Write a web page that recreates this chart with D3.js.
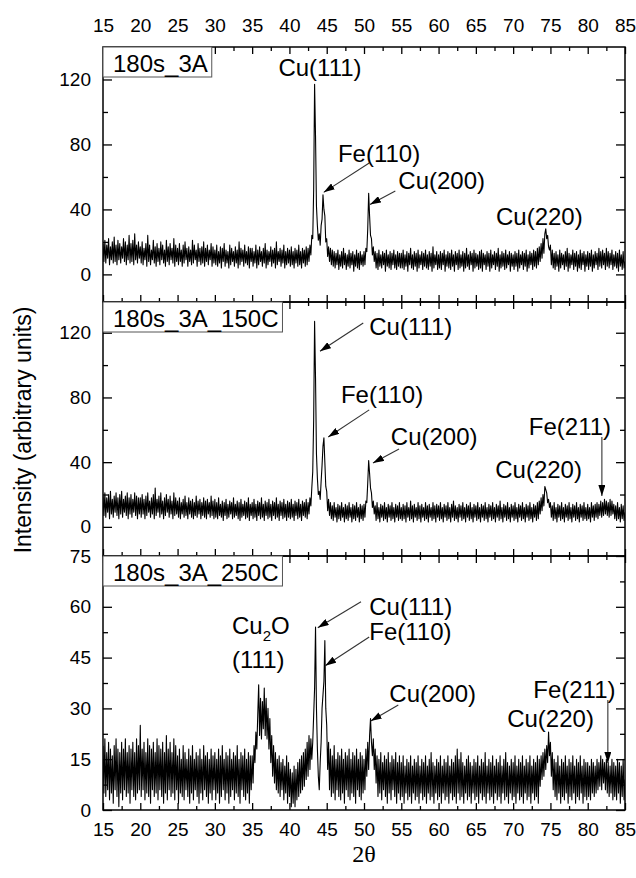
<!DOCTYPE html>
<html>
<head>
<meta charset="utf-8">
<script src="https://cdn.jsdelivr.net/npm/d3@7"></script>
<style>
  body { margin: 0; background: #fff; }
</style>
</head>
<body>
<div id="chart"></div>
<script>
// 2-theta sampling grid (degrees)
var thetaStart = 15;
var thetaStep = 0.125;

// intensities, one value per 0.125 deg, one line per 5 deg
var int3A = [
  19,8,21,7,18,10,22,6,17,9, 20,7,23,8,18,6,21,9,19,7, 17,10,22,8,20,6,18,9,24,7, 19,8,21,6,25,9,18,7,20,10,
  17,7,20,6,16,9,19,5,24,8, 18,6,15,9,21,7,17,5,19,8, 16,6,20,9,18,7,15,5,21,8, 17,6,19,9,16,7,22,5,18,8,
  16,6,19,8,15,5,18,7,20,9, 16,5,17,8,15,6,21,7,18,9, 15,5,19,8,16,6,17,7,20,5, 16,8,18,6,15,9,19,5,17,7,
  15,6,18,5,14,7,17,4,16,8, 19,5,15,7,14,4,18,6,16,8, 14,5,17,7,15,4,20,6,16,8, 15,5,18,7,14,6,17,4,16,8,
  16,5,14,7,18,4,15,6,17,8, 14,5,16,7,19,4,15,6,14,8, 17,5,15,7,16,4,20,6,14,8, 16,5,15,7,18,4,14,6,16,7,
  15,5,17,6,14,4,16,7,15,5, 18,6,14,4,16,7,15,5,17,6, 16,8,18,12,24,22,52,117,85,42, 30,21,25,18,30,34,49,40,36,20,
  22,11,17,8,16,6,15,5,14,4, 13,6,15,3,12,5,14,4,16,6, 13,3,12,5,15,4,13,6,14,2, 12,5,15,4,13,3,14,6,12,5,
  14,6,16,14,28,50,36,24,22,12, 17,8,14,4,13,3,15,5,12,4, 14,6,13,2,15,5,12,4,14,3, 13,6,15,4,12,3,14,5,13,4,
  13,4,15,3,12,5,14,2,13,6, 16,4,12,3,14,5,13,2,15,4, 12,6,14,3,13,5,15,4,12,3, 14,5,13,2,17,4,12,6,14,3,
  12,4,14,3,13,6,15,2,12,5, 14,4,13,3,15,5,12,2,14,6, 13,3,15,4,12,5,14,2,13,4, 16,5,12,3,14,6,13,2,15,4,
  13,5,12,3,14,4,15,2,13,6, 12,3,14,5,13,2,15,4,12,6, 14,3,13,5,16,2,12,4,14,5, 13,3,15,4,12,6,14,2,13,5,
  12,3,14,5,13,2,15,4,12,6, 14,3,13,5,15,2,12,4,14,6, 13,3,15,5,14,4,16,6,17,8, 19,10,22,13,25,28,22,24,17,15,
  18,6,15,4,13,3,14,5,12,2, 15,4,13,6,12,3,14,5,16,2, 13,4,12,6,15,3,13,5,14,2, 12,4,15,3,13,6,14,2,12,5,
  14,3,13,5,15,2,12,4,14,6, 13,3,16,5,14,4,15,6,13,3, 16,5,14,4,13,6,15,3,12,5, 14,4,13,2,15,5,12,3,14,4,
  8
];

var int150C = [
  19,7,21,6,18,9,20,5,22,8, 17,6,19,9,21,7,18,5,20,8, 22,6,17,9,19,7,21,5,18,8, 20,6,17,9,21,7,19,5,18,8,
  18,6,20,8,17,5,19,7,21,9, 16,6,18,8,20,5,24,7,17,9, 19,6,21,8,16,5,18,7,20,9, 17,6,19,8,16,5,21,7,18,8,
  16,6,18,5,15,8,17,6,19,7, 15,5,18,8,16,6,17,5,15,7, 19,6,16,8,17,5,15,7,18,6, 16,5,17,8,15,6,19,7,16,5,
  17,6,15,5,18,7,14,6,16,4, 15,7,17,5,14,6,16,8,15,5, 18,6,14,7,16,5,15,4,17,6, 14,7,16,5,15,6,18,4,14,7,
  15,5,17,6,14,4,16,7,15,5, 18,6,14,4,16,7,15,5,17,6, 14,4,16,7,15,5,18,6,14,4, 16,7,15,5,17,6,14,4,16,6,
  15,5,17,6,14,4,16,7,15,5, 17,6,14,4,16,7,15,6,17,5, 15,8,18,13,24,34,66,127,92,45, 30,20,22,17,28,38,50,55,40,25,
  22,10,17,7,15,5,13,4,15,6, 12,3,14,5,13,4,15,6,12,3, 14,5,13,4,15,6,12,3,14,5, 13,4,15,6,12,3,14,5,13,4,
  14,6,16,15,27,41,33,24,21,12, 16,8,13,4,15,5,12,3,14,6, 13,4,15,5,12,3,14,6,13,4, 15,5,12,3,14,6,13,4,15,5,
  12,4,14,5,13,3,15,6,12,4, 16,5,13,3,14,6,12,4,15,5, 13,3,14,6,12,4,15,5,13,3, 14,6,12,4,15,5,13,3,14,6,
  13,4,15,5,12,3,14,6,13,4, 15,5,12,3,14,6,16,4,13,5, 12,3,14,6,13,4,15,5,12,3, 14,6,13,4,15,5,12,3,14,6,
  13,4,15,5,12,3,14,6,13,4, 15,5,12,3,14,6,13,4,15,5, 12,3,14,6,13,4,16,5,12,3, 14,6,13,4,15,5,12,3,14,6,
  13,4,15,5,12,3,14,6,13,4, 15,5,12,3,14,6,13,4,15,5, 12,3,14,6,13,4,15,5,16,8, 18,10,20,13,25,23,21,15,17,12,
  15,6,13,4,15,5,12,3,14,6, 13,4,15,5,12,3,14,6,13,4, 15,5,12,3,14,6,13,4,15,5, 12,3,14,6,13,4,15,5,12,4,
  14,5,12,3,15,6,13,4,14,6, 15,5,14,7,16,6,15,7,17,8, 16,7,15,6,17,7,16,8,14,5, 13,4,15,5,12,3,14,5,13,4,
  9
];

var int250C = [
  19,5,21,4,17,6,20,3,18,5, 16,2,19,6,21,4,18,1,17,5, 20,3,18,6,21,4,17,5,19,2, 18,6,20,4,17,3,21,5,19,6,
  25,4,18,6,20,3,17,5,21,4, 19,2,18,6,20,4,17,5,21,3, 19,6,18,4,20,2,17,5,22,3, 18,6,20,4,17,5,21,3,19,6,
  16,2,18,5,15,4,19,3,17,6, 15,4,18,2,16,5,19,3,15,6, 17,4,16,2,18,5,15,3,19,6, 16,4,17,2,15,5,18,3,16,6,
  17,3,15,5,18,2,16,4,19,6, 15,3,17,5,16,2,18,4,15,6, 17,3,16,5,19,4,15,2,17,6, 16,4,18,3,15,5,17,2,16,6,
  16,8,19,14,23,18,28,37,22,33, 21,32,24,36,22,33,21,30,18,27, 14,22,10,19,8,17,6,15,5,16, 4,14,6,15,3,13,5,16,2,14,
  4,12,1,11,2,13,1,12,3,14, 4,15,5,16,6,17,7,18,9,20, 10,22,12,21,15,20,28,36,54,30, 18,10,6,14,20,30,34,38,50,30,
  25,12,20,6,18,4,16,5,19,3, 15,6,17,4,16,3,18,5,15,2, 17,6,16,4,18,3,15,5,17,4, 16,2,18,6,15,4,17,3,16,5,
  15,6,18,10,20,12,22,27,20,16, 21,12,18,8,16,4,15,5,17,3, 14,6,16,4,15,2,17,5,14,3, 16,6,15,4,17,2,14,5,16,3,
  14,4,16,2,13,5,15,3,14,4, 16,2,13,5,15,3,14,4,16,2, 13,5,15,3,14,4,16,2,13,5, 15,3,17,4,14,2,13,5,15,3,
  14,4,16,2,13,5,15,3,14,4, 16,2,13,5,15,3,14,4,16,2, 18,5,15,3,17,4,14,2,13,5, 15,3,16,4,14,2,13,5,15,3,
  14,4,16,2,13,5,15,3,14,4, 17,2,13,5,15,3,14,4,16,2, 13,5,15,3,14,4,16,2,13,5, 15,3,17,4,14,2,13,5,15,3,
  14,4,16,2,13,5,15,3,14,4, 16,2,13,5,15,3,14,4,16,2, 13,5,15,3,14,4,16,2,15,7, 16,9,17,10,18,12,19,14,23,16,
  20,10,17,6,15,4,14,3,16,5, 13,2,15,4,14,3,16,5,13,2, 15,4,14,3,16,5,13,2,15,4, 14,3,16,5,13,2,15,4,14,3,
  14,4,13,3,15,5,14,4,13,5, 15,6,14,7,16,6,15,8,14,6, 15,5,14,4,13,5,15,3,14,4, 13,3,15,5,14,2,13,4,15,3,
  9
];

var sampleNames = ["180s_3A", "180s_3A_150C", "180s_3A_250C"];
var xTicks = [15, 20, 25, 30, 35, 40, 45, 50, 55, 60, 65, 70, 75, 80, 85];
var xMinorTicks = [17.5, 22.5, 27.5, 32.5, 37.5, 42.5, 47.5, 52.5, 57.5, 62.5, 67.5, 72.5, 77.5, 82.5];
var yTicksHigh = [0, 40, 80, 120];
var yMinorHigh = [20, 60, 100];
var yTicksLow = [0, 15, 30, 45, 60, 75];
var yMinorLow = [7.5, 22.5, 37.5, 52.5, 67.5];

// svg dimensions
var svgWidth = 636;
var svgHeight = 878;
var plotLeft = 103;
var plotRight = 625;
var font = "'Liberation Sans', Arial, sans-serif";

var svg = d3.select("#chart")
  .append("svg")
  .attr("width", svgWidth)
  .attr("height", svgHeight);

svg.append("defs").append("marker")
  .attr("id", "head")
  .attr("markerUnits", "userSpaceOnUse")
  .attr("viewBox", "0 0 11 7")
  .attr("refX", 11)
  .attr("refY", 3.5)
  .attr("markerWidth", 11)
  .attr("markerHeight", 7)
  .attr("orient", "auto")
  .append("path")
  .attr("d", "M0,0L11,3.5L0,7Z")
  .attr("fill", "#000");

var x = d3.scaleLinear().domain([15, 85]).range([plotLeft, plotRight]);

// labels and arrows in data units (2theta, intensity)
var panels = [
  {
    data: int3A, domain: [-17, 140], top: 47, bottom: 302,
    ticks: yTicksHigh, minor: yMinorHigh,
    labels: [
      {t: "Cu(111)", x: 44.1, y: 122, anchor: "middle"},
      {t: "Fe(110)", x: 46.5, y: 69},
      {t: "Cu(200)", x: 54.6, y: 52.6},
      {t: "Cu(220)", x: 67.7, y: 30.4}
    ],
    arrows: [
      [50.7, 68.6, 44.6, 50.5],
      [54.2, 51.4, 50.8, 43]
    ]
  },
  {
    data: int150C, domain: [-18, 139], top: 302, bottom: 556,
    ticks: yTicksHigh, minor: yMinorHigh,
    labels: [
      {t: "Cu(111)", x: 50.7, y: 118.6},
      {t: "Fe(110)", x: 46.9, y: 76.6},
      {t: "Cu(200)", x: 53.6, y: 50.6},
      {t: "Fe(211)", x: 72.1, y: 56.8},
      {t: "Cu(220)", x: 67.6, y: 30.2}
    ],
    arrows: [
      [49.9, 126, 44.1, 108.6],
      [50.7, 72.3, 45.2, 55.6],
      [54.7, 48.1, 51.2, 39.5],
      [81.9, 55.6, 81.9, 19.1]
    ]
  },
  {
    data: int250C, domain: [0, 75], top: 556, bottom: 810,
    ticks: yTicksLow, minor: yMinorLow,
    labels: [
      {t: "Cu(111)", x: 50.7, y: 57.6},
      {t: "Fe(110)", x: 50.7, y: 50.3},
      {t: "Cu(200)", x: 53.4, y: 31.9},
      {t: "Fe(211)", x: 72.7, y: 33.1},
      {t: "Cu(220)", x: 69.2, y: 24.5},
      {t: "(111)", x: 32.3, y: 42}
    ],
    oxide: {x: 32.3, y: 52},
    arrows: [
      [49.6, 61.5, 43.8, 53.8],
      [50.7, 51.1, 44.8, 42.6],
      [54.6, 31, 50.9, 26.3],
      [82.7, 32.5, 82.7, 13.9]
    ]
  }
];

panels.forEach(function(p, i) {
  var y = d3.scaleLinear().domain(p.domain).range([p.bottom, p.top]);
  var g = svg.append("g");

  g.append("clipPath").attr("id", "clip" + i)
    .append("rect")
    .attr("x", plotLeft).attr("y", p.top)
    .attr("width", plotRight - plotLeft).attr("height", p.bottom - p.top);

  var line = d3.line()
    .x(function(d, k) { return x(thetaStart + k * thetaStep); })
    .y(function(d) { return y(d); });

  g.append("path")
    .datum(p.data)
    .attr("clip-path", "url(#clip" + i + ")")
    .attr("d", line)
    .attr("fill", "none")
    .attr("stroke", "#000")
    .attr("stroke-width", 1.1)
    .attr("stroke-linejoin", "round");

  // axes, ticks all pointing inward
  function styleAxis(sel) {
    sel.select(".domain").remove();
    sel.selectAll(".tick line").attr("stroke", "#000").attr("stroke-width", 1.3);
    sel.selectAll("text").attr("font-size", 19).attr("font-family", font).attr("fill", "#000");
  }
  var showTop = i === 0, showBottom = i === panels.length - 1;

  g.append("g").attr("transform", "translate(0," + p.top + ")")
    .call(d3.axisTop(x).tickValues(xTicks).tickSize(-7).tickPadding(15)
      .tickFormat(showTop ? d3.format("d") : ""))
    .call(styleAxis);
  g.append("g").attr("transform", "translate(0," + p.top + ")")
    .call(d3.axisTop(x).tickValues(xMinorTicks).tickSize(-4).tickFormat(""))
    .call(styleAxis);
  g.append("g").attr("transform", "translate(0," + p.bottom + ")")
    .call(d3.axisBottom(x).tickValues(xTicks).tickSize(-7).tickPadding(13)
      .tickFormat(showBottom ? d3.format("d") : ""))
    .call(styleAxis);
  g.append("g").attr("transform", "translate(0," + p.bottom + ")")
    .call(d3.axisBottom(x).tickValues(xMinorTicks).tickSize(-4).tickFormat(""))
    .call(styleAxis);

  g.append("g").attr("transform", "translate(" + plotLeft + ",0)")
    .call(d3.axisLeft(y).tickValues(p.ticks).tickSize(-9).tickPadding(12).tickFormat(d3.format("d")))
    .call(styleAxis);
  g.append("g").attr("transform", "translate(" + plotLeft + ",0)")
    .call(d3.axisLeft(y).tickValues(p.minor).tickSize(-5).tickFormat(""))
    .call(styleAxis);
  g.append("g").attr("transform", "translate(" + plotRight + ",0)")
    .call(d3.axisRight(y).tickValues(p.ticks).tickSize(-9).tickFormat(""))
    .call(styleAxis);
  g.append("g").attr("transform", "translate(" + plotRight + ",0)")
    .call(d3.axisRight(y).tickValues(p.minor).tickSize(-5).tickFormat(""))
    .call(styleAxis);

  g.append("rect")
    .attr("x", plotLeft).attr("y", p.top)
    .attr("width", plotRight - plotLeft).attr("height", p.bottom - p.top)
    .attr("fill", "none").attr("stroke", "#000").attr("stroke-width", 1.5);

  // sample name box
  var box = g.append("rect")
    .attr("x", plotLeft).attr("y", p.top)
    .attr("height", 30)
    .attr("fill", "#fff").attr("stroke", "#555").attr("stroke-width", 1);
  var nameText = g.append("text")
    .attr("x", plotLeft + 10).attr("y", p.top + 25)
    .attr("font-family", font).attr("font-size", 24)
    .text(sampleNames[i]);
  box.attr("width", nameText.node().getComputedTextLength() + 14);

  // peak labels
  g.selectAll(".peak")
    .data(p.labels)
    .enter().append("text")
    .attr("class", "peak")
    .attr("x", function(d) { return x(d.x); })
    .attr("y", function(d) { return y(d.y); })
    .attr("text-anchor", function(d) { return d.anchor || "start"; })
    .attr("font-family", font).attr("font-size", 24)
    .text(function(d) { return d.t; });

  if (p.oxide) {
    var ox = g.append("text")
      .attr("x", x(p.oxide.x)).attr("y", y(p.oxide.y))
      .attr("font-family", font).attr("font-size", 24);
    ox.append("tspan").text("Cu");
    ox.append("tspan").attr("font-size", 15).attr("dy", 7).text("2");
    ox.append("tspan").attr("dy", -7).text("O");
  }

  g.selectAll(".arrow")
    .data(p.arrows)
    .enter().append("line")
    .attr("class", "arrow")
    .attr("x1", function(d) { return x(d[0]); })
    .attr("y1", function(d) { return y(d[1]); })
    .attr("x2", function(d) { return x(d[2]); })
    .attr("y2", function(d) { return y(d[3]); })
    .attr("stroke", "#333")
    .attr("stroke-width", 1.1)
    .attr("marker-end", "url(#head)");
});

// axis titles
svg.append("text")
  .attr("transform", "translate(31,430) rotate(-90)")
  .attr("text-anchor", "middle")
  .attr("font-family", font).attr("font-size", 23)
  .text("Intensity (arbitrary units)");

svg.append("text")
  .attr("x", (plotLeft + plotRight) / 2)
  .attr("y", 862)
  .attr("text-anchor", "middle")
  .attr("font-family", "'Liberation Serif', 'Times New Roman', serif")
  .attr("font-size", 24)
  .text("2θ");
</script>
</body>
</html>
